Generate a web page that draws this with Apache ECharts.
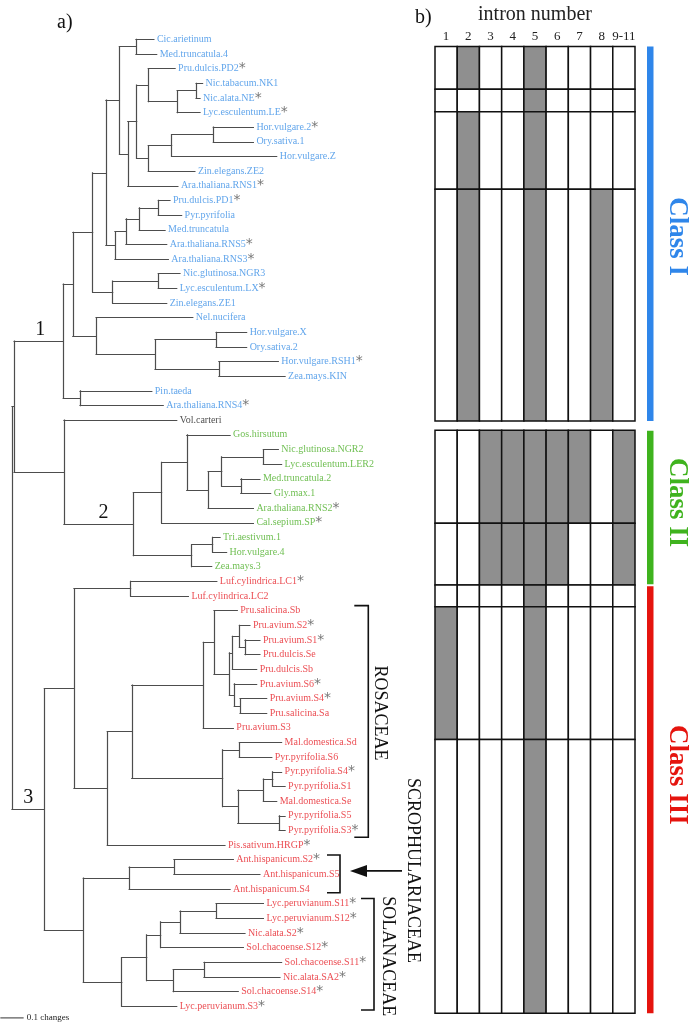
<!DOCTYPE html>
<html><head><meta charset="utf-8">
<script src="https://cdn.jsdelivr.net/npm/echarts@6/dist/echarts.min.js"></script>
<style>html,body{margin:0;padding:0;background:#fff}#c{width:689px;height:1025px}</style>
</head><body><div id="c"></div>
<script>
// ---------------- DATA ----------------
// Tree topology; the number after ':' is the node's distance from the root (changes)
const class1Tree =
"((((((Cic.arietinum:0.609,Med.truncatula.4:0.621):0.532," +
"(((Pru.dulcis.PD2:0.700,((Nic.tabacum.NK1:0.818,Nic.alata.NE:0.807):0.790,Lyc.esculentum.LE:0.807):0.709):0.585," +
"(((Hor.vulgare.2:1.036,Ory.sativa.1:1.036):0.864,Hor.vulgare.Z:1.136):0.685,Zin.elegans.ZE2:0.785):0.585):0.535," +
"Ara.thaliana.RNS1:0.712):0.497):0.461," +
"((((Pru.dulcis.PD1:0.678,Pyr.pyrifolia:0.728):0.628,Med.truncatula:0.657):0.546,Ara.thaliana.RNS5:0.664):0.489," +
"Ara.thaliana.RNS3:0.671):0.442):0.403," +
"((Nic.glutinosa.NGR3:0.721,Lyc.esculentum.LX:0.707):0.628,Zin.elegans.ZE1:0.664):0.432):0.346," +
"(Nel.nucifera:0.776,((Hor.vulgare.X:1.007,Ory.sativa.2:1.007):0.876,(Hor.vulgare.RSH1:1.143,Zea.mays.KIN:1.172):0.888):0.614):0.361):0.261," +
"(Pin.taeda:0.600,Ara.thaliana.RNS4:0.649):0.292)C1:0.220";

const class2Tree =
"(((Gos.hirsutum:0.936,(((Nic.glutinosa.NGR2:1.143,Lyc.esculentum.LER2:1.157):1.079,(Med.truncatula.2:1.064,Gly.max.1:1.110):0.982):0.900,Ara.thaliana.RNS2:1.036):0.842):0.750," +
"Cal.sepium.SP:1.036):0.642," +
"((Tri.aestivum.1:0.893,Hor.vulgare.4:0.921):0.861,Zea.mays.3:0.857):0.771)C2:0.521";

const class3Tree =
"(((Luf.cylindrica.LC1:0.879,Luf.cylindrica.LC2:0.757):0.509," +
"((((Pru.salicina.Sb:0.967," +
"(((Pru.avium.S2:1.021,(Pru.avium.S1:1.064,Pru.dulcis.Se:1.064):1.000):0.976,Pru.dulcis.Sb:1.050):0.946," +
"(Pru.avium.S6:1.050,(Pru.avium.S4:1.093,Pru.salicina.Sa:1.093):0.979):0.954):0.933):0.867," +
"Pru.avium.S3:0.950):0.821," +
"((Mal.domestica.Sd:1.157,Pyr.pyrifolia.S6:1.115):0.976," +
"(((Pyr.pyrifolia.S4:1.157,Pyr.pyrifolia.S1:1.172):1.119,Mal.domestica.Se:1.136):1.079," +
"(Pyr.pyrifolia.S5:1.172,Pyr.pyrifolia.S3:1.172):1.147):0.969):0.904):0.514," +
"Pis.sativum.HRGP:0.914):0.409):0.266," +
"(((Ant.hispanicum.S2:0.950,Ant.hispanicum.S5:1.064):0.695,Ant.hispanicum.S4:0.936):0.503," +
"(((((Lyc.peruvianum.S11:1.079,Lyc.peruvianum.S12:1.079):0.876,Nic.alata.S2:1.000):0.721,Sol.chacoense.S12:0.993):0.638," +
"((Sol.chacoense.S11:1.157,Nic.alata.SA2:1.150):0.824,Sol.chacoense.S14:0.971):0.692):0.578," +
"Lyc.peruvianum.S3:0.707):0.471):0.306)C3:0.139";

const outgroup = "Vol.carteri:0.707";
const outgroupNodeDepth = 0.223;
const ingroupNodeDepth = 0.009;

const starredLeaves = [
  "Pru.dulcis.PD2","Nic.alata.NE","Lyc.esculentum.LE","Hor.vulgare.2","Ara.thaliana.RNS1",
  "Pru.dulcis.PD1","Ara.thaliana.RNS5","Ara.thaliana.RNS3","Lyc.esculentum.LX","Hor.vulgare.RSH1",
  "Ara.thaliana.RNS4","Ara.thaliana.RNS2","Cal.sepium.SP","Luf.cylindrica.LC1","Pru.avium.S2",
  "Pru.avium.S1","Pru.avium.S6","Pru.avium.S4","Pyr.pyrifolia.S4","Pyr.pyrifolia.S3",
  "Pis.sativum.HRGP","Ant.hispanicum.S2","Lyc.peruvianum.S11","Lyc.peruvianum.S12","Nic.alata.S2",
  "Sol.chacoense.S12","Sol.chacoense.S11","Nic.alata.SA2","Sol.chacoense.S14","Lyc.peruvianum.S3"
];
const cladeNodes = ["C1","C2","C3"];
const cladeLabels = ["1","2","3"];

const familyNames = ["ROSACEAE","SCROPHULARIACEAE","SOLANACEAE"];
const familyFirstLeaf = ["Pru.salicina.Sb","Ant.hispanicum.S2","Lyc.peruvianum.S11"];
const familyLastLeaf = ["Pyr.pyrifolia.S3","Ant.hispanicum.S4","Lyc.peruvianum.S3"];

const scaleBarLength = 0.1;
const scaleBarLabel = "0.1 changes";

// intron panel
const intronLabels = ["1","2","3","4","5","6","7","8","9-11"];
const rowStart = [0, 43.3, 66, 144.3, 387.6, 481.6, 544, 566, 700];
const rowEnd   = [43.3, 66, 144.3, 378.3, 481.6, 544, 566, 700, 976.6];
const intronPresence = [
  [0,1,0,0,1,0,0,0,0],
  [0,0,0,0,1,0,0,0,0],
  [0,1,0,0,1,0,0,0,0],
  [0,1,0,0,1,0,0,1,0],
  [0,0,1,1,1,1,1,0,1],
  [0,0,1,1,1,1,0,0,1],
  [0,0,0,0,1,0,0,0,0],
  [1,0,0,0,1,0,0,0,0],
  [0,0,0,0,1,0,0,0,0]
];
const classNames = ["Class I","Class II","Class III"];
const classStart = [0, 388.3, 545.3];
const classEnd = [378.3, 543.3, 976.6];

// ---------------- STYLE / LAYOUT ----------------
const SERIF = '"Liberation Serif","Times New Roman",serif';
const cladeColor = {C1:'#3a8ee6', C2:'#4caf28', C3:'#e61e25'};
const classColor = ['#2f86ea','#3fb31e','#e5140e'];
const cladeLabelFrac = [0.53, 0.57, 0.5];
const bracketLayout = [
  {x:368.3, tick:14, padTop:0.34, padBot:0.47, textX:380, textDy:-8.5},
  {x:340, tick:13, padTop:0.32, padBot:0.26, textX:413, textDy:-3.5},
  {x:374, tick:13, padTop:0.35, padBot:0.26, textX:388, textDy:2}
];
const classLabelDy = [3, -5, -25];

// ---------------- TREE BUILD ----------------
function parseNewick(s){
  s = s.replace(/\s+/g,'');
  let i = 0;
  function node(){
    const n = {children:[]};
    if (s[i] === '('){
      i++;
      n.children.push(node());
      while (s[i] === ','){ i++; n.children.push(node()); }
      i++;
    }
    let name = '';
    while (i < s.length && !':,()'.includes(s[i])) name += s[i++];
    n.name = name;
    if (s[i] === ':'){ i++; let v=''; while (i < s.length && !',()'.includes(s[i])) v += s[i++]; n.depth = parseFloat(v); }
    n.children.forEach(c => c.parent = n);
    return n;
  }
  return node();
}
const fullTree = "((" + class1Tree + ",(" + outgroup + "," + class2Tree + "):" + outgroupNodeDepth + "):" + ingroupNodeDepth + "," + class3Tree + "):0";
const root = parseNewick(fullTree);
const leaves = [], nodeByName = {}, leafIndex = {};
(function layout(n, clade){
  if (cladeNodes.includes(n.name)) clade = n.name;
  n.clade = clade;
  if (n.name) nodeByName[n.name] = n;
  if (!n.children.length){ n.y = leaves.length; leafIndex[n.name] = n.y; leaves.push(n); }
  else {
    n.children.forEach(c => layout(c, clade));
    n.y = (n.children[0].y + n.children[n.children.length-1].y) / 2;
  }
})(root, null);

const segments = [];
(function collect(n){
  if (!n.children.length) return;
  const ys = n.children.map(c => c.y);
  segments.push({coords:[[n.depth, Math.min(...ys)], [n.depth, Math.max(...ys)]]});
  n.children.forEach(c => { segments.push({coords:[[n.depth, c.y], [c.depth, c.y]]}); collect(c); });
})(root);

const starSet = new Set(starredLeaves);
const leafData = leaves.map(l => ({
  value:[l.depth, l.y], name:l.name,
  label:{color: l.clade ? cladeColor[l.clade] : '#222'}
}));

const cellData = [];
intronPresence.forEach((row, r) => row.forEach((p, c) => cellData.push([c, rowStart[r], rowEnd[r], p])));
const classData = classNames.map((n, k) => [k, classStart[k], classEnd[k]]);

// ---------------- CHART ----------------
const chart = echarts.init(document.getElementById('c'), null, {renderer:'canvas'});
const STEP = 14.65, Y0 = 39.3, PXPERCHANGE = 233;
const yMin = -2, yMax = 67;
const xMax = 1.8;

function renderAnnot(params, api){
  const P = (x, y) => api.coord([x, y]);
  const ch = [];
  cladeNodes.forEach((cn, k) => {
    const n = nodeByName[cn];
    const a = P(n.parent.depth, n.y), b = P(n.depth, n.y);
    ch.push({type:'text', x:a[0] + (b[0]-a[0]) * cladeLabelFrac[k], y:a[1] - 1.5,
      style:{text:cladeLabels[k], fontSize:20, fontFamily:SERIF, fill:'#111', align:'center', verticalAlign:'bottom'}});
  });
  // scale bar
  const sb0 = P(-scaleBarLength/2, leaves.length - 0.2), sb1 = P(scaleBarLength/2, leaves.length - 0.2);
  ch.push({type:'line', shape:{x1:sb0[0], y1:sb0[1], x2:sb1[0], y2:sb1[1]}, style:{stroke:'#333', lineWidth:1}});
  ch.push({type:'text', x:sb1[0] + 3, y:sb1[1], style:{text:scaleBarLabel, fontSize:9, fontFamily:SERIF, fill:'#222', align:'left', verticalAlign:'middle'}});
  // family brackets
  familyNames.forEach((f, k) => {
    const L = bracketLayout[k];
    const yT = P(0, leafIndex[familyFirstLeaf[k]] - L.padTop)[1];
    const yB = P(0, leafIndex[familyLastLeaf[k]] + L.padBot)[1];
    ch.push({type:'polyline', shape:{points:[[L.x - L.tick, yT],[L.x, yT],[L.x, yB],[L.x - L.tick, yB]]},
      style:{stroke:'#111', lineWidth:1.6, fill:null}});
    const ym = (yT + yB) / 2;
    ch.push({type:'text', x:L.textX, y:ym + L.textDy, rotation:-Math.PI/2,
      style:{text:f, fontSize:18, fontFamily:SERIF, fill:'#111', align:'center', verticalAlign:'middle'}});
    if (k === 1){
      const ay = ym - 3;
      ch.push({type:'line', shape:{x1:L.textX - 11, y1:ay, x2:L.x + 22, y2:ay}, style:{stroke:'#111', lineWidth:1.6}});
      ch.push({type:'polygon', shape:{points:[[L.x + 10, ay],[L.x + 27, ay - 6],[L.x + 27, ay + 6]]}, style:{fill:'#111'}});
    }
  });
  return {type:'group', children:ch};
}

function renderCell(params, api){
  const c = api.value(0), y0 = api.value(1), y1 = api.value(2), p = api.value(3);
  const t = api.coord([c, y0]), b = api.coord([c, y1]);
  const w = api.size([1, 0])[0];
  return {type:'rect', shape:{x:t[0]-w/2, y:t[1], width:w, height:b[1]-t[1]},
    style:{fill: p ? '#8f8f8f' : '#fff', stroke:'#111', lineWidth:1.5}};
}

function renderClass(params, api){
  const k = api.value(0);
  const t = api.coord([8, api.value(1)]), b = api.coord([8, api.value(2)]);
  const w = api.size([1, 0])[0];
  const right = t[0] + w/2;
  const mid = (t[1] + b[1]) / 2 + classLabelDy[k];
  return {type:'group', children:[
    {type:'rect', shape:{x:right + 12, y:t[1], width:6.5, height:b[1]-t[1]}, style:{fill:classColor[k]}},
    {type:'text', x:right + 42, y:mid, rotation:-Math.PI/2,
      style:{text:classNames[k], fontSize:27, fontWeight:'bold', fontFamily:SERIF, fill:classColor[k], align:'center', verticalAlign:'middle'}}
  ]};
}

const treeTop = Y0 + yMin * STEP;
const treeBottomPx = Y0 + yMax * STEP;

chart.setOption({
  animation:false,
  backgroundColor:'#fff',
  grid:[
    {left:12, top:treeTop, width:xMax * PXPERCHANGE, height:treeBottomPx - treeTop, containLabel:false},
    {left:435, top:36.7, width:200, height:976.6, containLabel:false}
  ],
  xAxis:[
    {gridIndex:0, type:'value', min:0, max:xMax, show:false},
    {gridIndex:1, type:'category', data:intronLabels, position:'top',
      axisLine:{show:false}, axisTick:{show:false}, splitLine:{show:false},
      axisLabel:{interval:0, hideOverlap:false, fontSize:13, fontFamily:SERIF, color:'#222', margin:3.5},
      name:'intron number', nameLocation:'middle', nameGap:16,
      nameTextStyle:{fontSize:20, fontFamily:SERIF, color:'#222'}}
  ],
  yAxis:[
    {gridIndex:0, type:'value', min:yMin, max:yMax, inverse:true, show:false},
    {gridIndex:1, type:'value', min:0, max:976.6, inverse:true, show:false}
  ],
  graphic:[
    {type:'text', left:57, top:13, style:{text:'a)', fontSize:20, fontFamily:SERIF, fill:'#111'}},
    {type:'text', left:415, top:8, style:{text:'b)', fontSize:20, fontFamily:SERIF, fill:'#111'}}
  ],
  series:[
    {type:'lines', coordinateSystem:'cartesian2d', xAxisIndex:0, yAxisIndex:0, polyline:false,
      data:segments, silent:true, lineStyle:{color:'#4d4d4d', width:1.2, opacity:1, cap:'square'}, z:2},
    {type:'scatter', xAxisIndex:0, yAxisIndex:0, data:leafData, symbolSize:0, silent:true,
      label:{show:true, position:'right', distance:3, fontSize:10, fontFamily:SERIF,
        formatter: p => p.name + (starSet.has(p.name) ? '{s|*}' : ''),
        rich:{s:{fontSize:14, color:'#555', fontFamily:'"DejaVu Sans",sans-serif', verticalAlign:'top'}}}, z:3},
    {type:'custom', xAxisIndex:0, yAxisIndex:0, data:[[0,0]], renderItem:renderAnnot, clip:false, silent:true, z:4},
    {type:'custom', xAxisIndex:1, yAxisIndex:1, data:cellData, renderItem:renderCell, clip:false, silent:true,
      encode:{x:0, y:[1,2]}},
    {type:'custom', xAxisIndex:1, yAxisIndex:1, data:classData, renderItem:renderClass, clip:false, silent:true,
      encode:{y:[1,2]}}
  ]
});
</script>
</body></html>
